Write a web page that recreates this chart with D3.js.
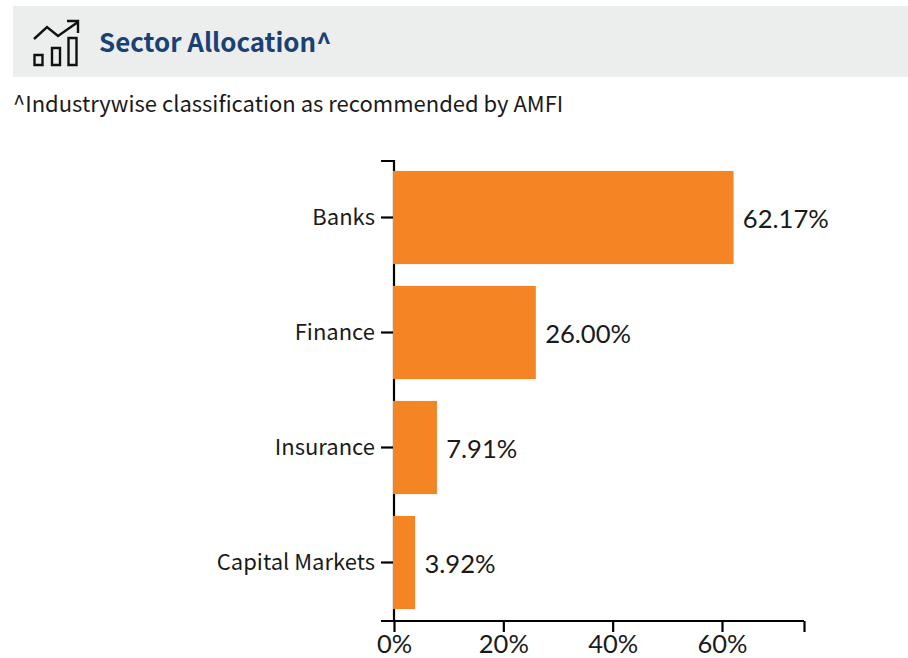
<!DOCTYPE html>
<html><head><meta charset="utf-8">
<script src="https://cdn.jsdelivr.net/npm/d3@7"></script>
<style>html,body{margin:0;padding:0;background:#fff}svg{display:block}</style></head>
<body><svg id="c" width="908" height="658"></svg>
<script>
const categories = ["Banks","Finance","Insurance","Capital Markets"];
const values = [62.17,26.00,7.91,3.92];
const xTicks = [0,20,40,60];
const titleText = "Sector Allocation^";
const noteText = "^Industrywise classification as recommended by AMFI";

const svg = d3.select("#c");
const cjk = "'Noto Sans CJK SC','Noto Sans',sans-serif";
const lato = "Lato,sans-serif";
svg.append("rect").attr("x",13).attr("y",6).attr("width",895).attr("height",71).attr("fill","#eceeee");
const icon = svg.append("g").attr("fill","none").attr("stroke","#111").attr("stroke-width",2.4);
icon.append("path").attr("d","M34 39 L47 27 L58 36 L78 22 M67 21 H78 V33");
icon.append("path").attr("d","M34.5 55h8v10h-8z M52 48h8v17h-8z M68.500 38h8v27h-8z");
svg.append("text").attr("x",99).attr("y",52).attr("font-family",cjk).attr("font-weight",700).attr("font-size",25.9).attr("fill","#1a4174").text(titleText);
svg.append("text").attr("x",13).attr("y",112).attr("font-family",cjk).attr("font-size",22).attr("fill","#1a1a1a").text(noteText);

const x = d3.scaleLinear().domain([0,75]).range([394,804]);
const y = d3.scaleBand().domain(categories).range([160,620]).paddingInner(0.19).paddingOuter(0.095);

const gy = svg.append("g").attr("transform","translate(394,0)").call(d3.axisLeft(y).tickSize(13).tickPadding(6));
gy.selectAll("path,line").attr("stroke","#000").attr("stroke-width",2.2);
gy.selectAll("text").attr("font-family",cjk).attr("font-size",22).attr("fill","#1a1a1a");
gy.select(".domain").attr("d","M-13,161H0V621");

svg.selectAll("rect.bar").data(values).join("rect").attr("class","bar")
  .attr("x",x(0)-1).attr("y",(d,i)=>y(categories[i])).attr("height",y.bandwidth())
  .attr("width",d=>x(d)-x(0)+0.7).attr("fill","#f58524");

const gx = svg.append("g").attr("transform","translate(0,621)").call(d3.axisBottom(x).tickValues([...xTicks,75]).tickSize(11).tickPadding(3).tickFormat(d=>xTicks.includes(d)?d+"%":""));
gx.selectAll("path,line").attr("stroke","#000").attr("stroke-width",2.2);
gx.selectAll("text").attr("font-family",lato).attr("font-size",25.500).attr("fill","#1a1a1a");
gx.select(".domain").attr("d","M381,0H804");

svg.selectAll("text.val").data(values).join("text").attr("class","val")
  .attr("x",d=>x(d)+9).attr("y",(d,i)=>y(categories[i])+y.bandwidth()/2+10)
  .attr("font-family",lato).attr("font-size",25.600).attr("fill","#1a1a1a")
  .text(d=>d.toFixed(2)+"%");
</script></body></html>
